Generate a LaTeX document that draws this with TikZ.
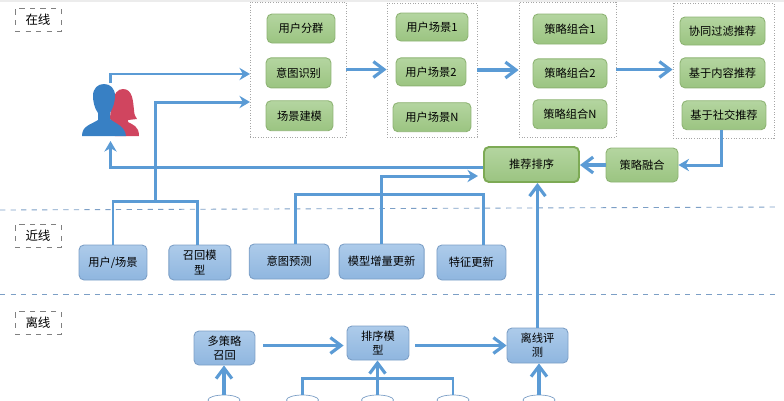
\documentclass[tikz,border=0pt]{standalone}
\usepackage{fontspec}
\setmainfont{Noto Sans CJK SC}
\usetikzlibrary{shapes.geometric,arrows.meta,positioning}
\definecolor{linkblue}{HTML}{5B9BD5}
\definecolor{gtop}{HTML}{B4D5A0}
\definecolor{gbot}{HTML}{9BC481}
\definecolor{gline}{HTML}{8DB373}
\definecolor{gdark}{HTML}{7DAA55}
\definecolor{btop}{HTML}{ADCBEA}
\definecolor{bbot}{HTML}{8FB6DF}
\definecolor{bline}{HTML}{7C9FC6}
\definecolor{maleblue}{HTML}{3880C4}
\definecolor{femalered}{HTML}{D0455F}

\begin{document}
\begin{tikzpicture}[
  x=0.02cm, y=-0.02cm,
  tag/.style={rectangle, draw=gray, dashed, line width=0.4pt, minimum width=0.92cm, minimum height=0.46cm, inner sep=0pt, font=\fontsize{7.1}{8.5}\selectfont},
  group/.style={rectangle, draw=gray!70, densely dotted, line width=0.5pt, inner sep=0pt},
  gbox/.style={rectangle, rounded corners=2.8pt, draw=gline, line width=0.5pt, top color=gtop, bottom color=gbot, inner sep=0pt, align=center, font=\fontsize{6.4}{8}\selectfont},
  bbox/.style={rectangle, rounded corners=2.8pt, draw=bline, line width=0.5pt, top color=btop, bottom color=bbot, inner sep=0pt, align=center, minimum height=0.7cm, font=\fontsize{6.4}{8}\selectfont},
  db/.style={ellipse, draw=bline, fill=white, line width=0.4pt, minimum width=0.64cm, minimum height=0.2cm, inner sep=0pt},
  arrow/.style={draw=linkblue, line width=1.7pt, -{Stealth[length=6pt,width=7pt]}},
  barb/.style={draw=linkblue, line width=1.8pt, -{Straight Barb[length=6pt,width=9pt]}},
  link/.style={draw=linkblue, line width=1.7pt},
  zone/.style={draw=bline, dashed, line width=0.5pt}
]
  \useasboundingbox (0,0) rectangle (784,400);
  \fill[gray!15] (0,0) rectangle (784,2);

  % zones
  \node[tag] (online) at (38,20) {在线};
  \node[tag] (nearline) at (38,236) {近线};
  \node[tag] (offline) at (38,323) {离线};
  \draw[zone] (0,210) -- (780,207);
  \draw[zone] (0,294) -- (779,294);

  % online
  \node[group, minimum width=1.92cm, minimum height=2.70cm] (grpa) at (298,69.5) {};
  \node[group, minimum width=1.80cm, minimum height=2.68cm] (grpb) at (432,70) {};
  \node[group, minimum width=1.94cm, minimum height=2.70cm] (grpc) at (567.5,69.5) {};
  \node[group, minimum width=2.02cm, minimum height=2.70cm] (grpd) at (723.5,70.5) {};

  \node[gbox, minimum width=1.36cm, minimum height=0.58cm] (seg) at (301,28.5) {用户分群};
  \node[gbox, minimum width=1.30cm, minimum height=0.60cm, below=0.28cm of seg, xshift=-0.05cm] (intent) {意图识别};
  \node[gbox, minimum width=1.34cm, minimum height=0.60cm, below=0.24cm of intent, xshift=0.02cm] (scene) {场景建模};

  \node[gbox, minimum width=1.44cm, minimum height=0.56cm] (usa) at (432,27) {用户场景1};
  \node[gbox, minimum width=1.40cm, minimum height=0.56cm, below=0.32cm of usa, xshift=-0.02cm] (usb) {用户场景2};
  \node[gbox, minimum width=1.56cm, minimum height=0.58cm, below=0.32cm of usb, xshift=0.02cm] (usn) {用户场景N};

  \node[gbox, minimum width=1.48cm, minimum height=0.60cm] (cla) at (570,29) {策略组合1};
  \node[gbox, minimum width=1.48cm, minimum height=0.58cm, below=0.28cm of cla] (clb) {策略组合2};
  \node[gbox, minimum width=1.48cm, minimum height=0.58cm, below=0.22cm of clb] (cln) {策略组合N};

  \node[gbox, minimum width=1.70cm, minimum height=0.56cm] (cf) at (722.5,31) {协同过滤推荐};
  \node[gbox, minimum width=1.70cm, minimum height=0.60cm, below=0.24cm of cf] (content) {基于内容推荐};
  \node[gbox, minimum width=1.68cm, minimum height=0.58cm, below=0.24cm of content, xshift=0.03cm] (social) {基于社交推荐};

  \node[gbox, draw=gdark, line width=1.1pt, minimum width=1.90cm, minimum height=0.70cm] (rank) at (531.5,164.5) {推荐排序};
  \node[gbox, minimum width=1.44cm, minimum height=0.68cm] (fuse) at (642,165) {策略融合};

  % users
  \node[minimum width=1.14cm, minimum height=1.06cm, inner sep=0pt, anchor=north] (user) at (110.5,83) {};
  \fill[femalered] (110,118) .. controls (111,108) and (112,89) .. (123,89) .. controls (133,89) and (133,102) .. (134,110) .. controls (134,115) and (136,117) .. (137,119) -- (128,120) -- (128,122) .. controls (133,125) and (139,126) .. (139,136) -- (115,136) -- cycle;
  \fill[maleblue] (82,136) .. controls (82,126) and (90,125) .. (98,120) -- (98,113) .. controls (94,108) and (93,100) .. (93,96) .. controls (93,88) and (98,84) .. (104,84) .. controls (110,84) and (115,88) .. (115,96) .. controls (115,102) and (113,108) .. (110,113) -- (110,119) .. controls (116,124) and (125,126) .. (126,136) -- cycle;

  % nearline
  \node[bbox, minimum width=1.36cm] (uscene) at (113,262.5) {用户/场景};
  \node[bbox, minimum width=1.24cm, right=0.42cm of uscene] (recall) {召回模\\型};
  \node[bbox, minimum width=1.60cm, right=0.35cm of recall, yshift=0.02cm] (predict) {意图预测};
  \node[bbox, minimum width=1.70cm, right=0.18cm of predict] (incr) {模型增量更新};
  \node[bbox, minimum width=1.38cm, right=0.24cm of incr, yshift=-0.02cm] (feat) {特征更新};

  % offline
  \node[bbox, minimum width=1.22cm, minimum height=0.68cm] (multi) at (224.5,348) {多策略\\召回};
  \node[bbox, minimum width=1.24cm, minimum height=0.68cm] (sort) at (378,343) {排序模\\型};
  \node[bbox, minimum width=1.22cm, minimum height=0.70cm] (eval) at (537.5,345.5) {离线评\\测};
  \node[db] (dba) at (224,400) {};
  \node[db] (dbb) at (302.5,400) {};
  \node[db] (dbc) at (377.5,400) {};
  \node[db] (dbd) at (453,400) {};
  \node[db] (dbe) at (539,400) {};

  \coordinate (ina) at (250,74);
  \coordinate (inb) at (250,102);
  \coordinate (up) at (155.5,201);
  \coordinate (back) at (110.5,141);
  \coordinate (inc) at (478,176);
  \coordinate (joint) at (483,194);
  \coordinate (bar) at (400,378);

  \draw[arrow] (user.north) |- (ina);
  \draw[arrow] (up) |- (inb);
  \draw[link] (uscene.north) |- (up) -| ([xshift=-0.04cm]recall.north);
  \draw[arrow] (rank.west |- 484,167) -| (back);
  \draw[link] ([xshift=0.12cm]predict.north) |- (joint) -- (joint |- feat.north);
  \draw[arrow] (incr.north) |- (inc);
  \draw[barb] (grpa.east) -- (grpb.west |- grpa.east);
  \draw[barb] (grpb.east) -- (grpc.west |- grpb.east);
  \draw[barb] (grpc.east) -- (grpd.west |- grpc.east);
  \draw[arrow] ([xshift=-0.06cm]social.south) |- (fuse.east);
  \draw[barb] (fuse.west) -- (rank.east |- fuse.west);
  \draw[barb] (eval.north) -- (rank.south -| eval.north);
  \draw[barb] ([xshift=0.16cm]eval.west -| multi.east) -- ([xshift=-0.06cm]eval.west -| sort.west);
  \draw[barb] ([xshift=0.12cm]eval.west -| sort.east) -- (eval.west);
  \draw[barb] (dba.north) -- (dba.north |- multi.south);
  \draw[barb] (dbc.north) -- (dbc.north |- sort.south);
  \draw[link] (dbb.north) |- (bar) -| (dbd.north);
  \draw[barb] (dbe.north) -- (eval.south -| dbe.north);
\end{tikzpicture}
\end{document}
